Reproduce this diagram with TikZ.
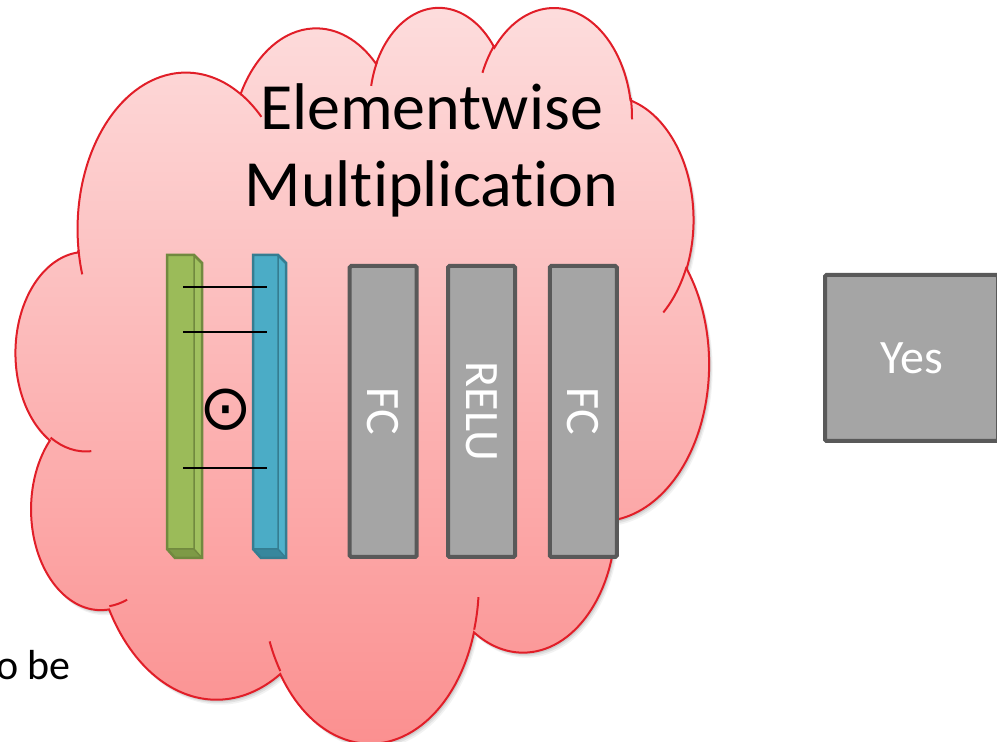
\documentclass[tikz,border=0pt]{standalone}
\usepackage{fontspec}
\setmainfont{Carlito}[Ligatures=NoCommon]
\newfontfamily\symfont{DejaVu Sans}
\definecolor{cloudtop}{RGB}{253,222,222}
\definecolor{cloudbot}{RGB}{251,142,142}
\definecolor{cloudred}{RGB}{225,30,40}
\definecolor{boxfill}{RGB}{165,165,165}
\definecolor{boxdraw}{RGB}{89,89,89}
\definecolor{grfront}{RGB}{155,187,89}
\definecolor{grside}{RGB}{160,192,95}
\definecolor{grbot}{RGB}{125,154,70}
\definecolor{grdraw}{RGB}{113,137,63}
\definecolor{blfront}{RGB}{75,172,198}
\definecolor{blside}{RGB}{80,178,204}
\definecolor{blbot}{RGB}{55,135,157}
\definecolor{bldraw}{RGB}{53,125,145}

\newcommand\cldarc[5]{%
  \pgfmathsetmacro\cldtts{atan2(#2*sin(#4),#3*cos(#4))}%
  \pgfmathsetmacro\cldtte{atan2(#2*sin(#4+#5),#3*cos(#4+#5))}%
  \pgfmathsetmacro\cldtd{\cldtte-(\cldtts)}%
  \pgfmathsetmacro\cldtd{\cldtd+360*and(#5>0,\cldtd<0)-360*and(#5<0,\cldtd>0)}%
  \pgfmathsetmacro\cldtS{-(\cldtts)}%
  \pgfmathsetmacro\cldtD{-(\cldtd)}%
  \pgfmathsetmacro\cldtrx{#2*0.0160417}%
  \pgfmathsetmacro\cldtry{#3*0.0170255}%
  \expandafter\xdef\csname cldp#1\endcsname{ arc[start angle=\cldtS, delta angle=\cldtD, x radius=\cldtrx pt, y radius=\cldtry pt]}%
}
\newcommand\cldinner[3]{% x y arcname
  \edef\cldtmp{\noexpand\draw[cloudline] (#1,#2) \csname cldp#3\endcsname;}\cldtmp}
\newcommand\cldshadow[3]{% dx dy opacity
  \edef\cldtmp{\noexpand\fill[black, opacity=#3, shift={(#1,#2)}]
  (78.56,491.84) \cldpA \cldpB \cldpC \cldpD \cldpE \cldpF \cldpG \cldpH \cldpI \cldpJ \cldpK -- cycle;}\cldtmp}

\tikzset{
  layerbox/.style={draw=boxdraw, fill=boxfill, line width=4pt, inner sep=0pt,
    rounded corners=1.5pt, text=white, font=\fontsize{48}{48}\selectfont},
  cloudline/.style={draw=cloudred, line width=2pt},
  link/.style={line width=2.2pt, draw=black},
}

\begin{document}
\begin{tikzpicture}[x=1pt,y=1pt]
\useasboundingbox (0,0) rectangle (997,742);

% cloud arcs (outer outline)
\cldarc{A}{6753}{9190}{-190.4875}{123.7805}
\cldarc{B}{5333}{7267}{-144.1024}{89.9452}
\cldarc{C}{4365}{5945}{-145.8079}{99.7230}
\cldarc{D}{4857}{6595}{-130.9861}{117.2417}
\cldarc{E}{5333}{7273}{-78.7089}{109.0269}
\cldarc{F}{6775}{9220}{-46.2673}{130.2690}
\cldarc{G}{5785}{7867}{0.6250}{114.0333}
\cldarc{H}{6752}{9215}{22.4516}{115.1726}
\cldarc{I}{7720}{10543}{66.2426}{75.7110}
\cldarc{J}{4360}{5918}{-274.9421}{146.7356}
\cldarc{K}{4345}{5945}{-246.8285}{152.5189}
% inner arcs
\cldarc{ia}{4345}{5945}{86.7420}{26.4295}
\cldarc{ib}{4360}{5918}{73.6105}{11.4475}
\cldarc{ic}{6752}{9215}{137.6242}{14.0811}
\cldarc{id}{6752}{9215}{6.4533}{15.9984}
\cldarc{ie}{5785}{7867}{-70.2924}{70.9174}
\cldarc{if}{5333}{7273}{30.3180}{27.7515}
\cldarc{ig}{4857}{6595}{-13.7443}{14.8507}
\cldarc{ih}{4857}{6595}{-149.1815}{18.1944}
\cldarc{ii}{4365}{5945}{-163.4943}{17.6979}
\cldarc{ij}{6753}{9190}{-66.7070}{12.3194}
\cldarc{ik}{6753}{9190}{157.6544}{11.8582}

% soft shadow
\cldshadow{3.5}{-5}{0.05}
\cldshadow{2.5}{-3.5}{0.07}
\cldshadow{1.5}{-2}{0.09}

\edef\cldtmp{\noexpand\path[cloudline, top color=cloudtop, bottom color=cloudbot]
  (78.56,491.84) \cldpA \cldpB \cldpC \cldpD \cldpE \cldpF \cldpG \cldpH \cldpI \cldpJ \cldpK -- cycle;}
\cldtmp
\cldinner{91.28}{290.82}{ia}
\cldinner{127.14}{142.33}{ib}
\cldinner{280.33}{70.97}{ic}
\cldinner{478.43}{144.85}{id}
\cldinner{563.49}{345.70}{ie}
\cldinner{686.51}{475.09}{if}
\cldinner{630.78}{644.12}{ig}
\cldinner{482.46}{669.22}{ih}
\cldinner{371.18}{656.14}{ii}
\cldinner{240.58}{648.10}{ij}
\cldinner{82.20}{467.68}{ik}

% title
\node[anchor=base, align=center, font=\fontsize{66}{76.7}\selectfont, inner sep=0pt]
  (title) at (431.5,535.3) {Elementwise\\Multiplication};

% green bar
\fill[grfront] (167,487) rectangle (194,193);
\fill[grside] (194,487) -- (202,479) -- (202,184) -- (194,193) -- cycle;
\fill[grbot] (167,193) -- (194,193) -- (202,184) -- (175,184) -- cycle;
\draw[grdraw, line width=1.5pt] (194,487) -- (194,193) -- (167,193) (194,193) -- (202,184);
\draw[grdraw, line width=2.5pt] (167,487) -- (194,487) -- (202,479) -- (202,184) -- (175,184) -- (167,193) -- cycle;

% blue bar
\fill[blfront] (253,487) rectangle (278,193);
\fill[blside] (278,487) -- (286,479) -- (286,184) -- (278,193) -- cycle;
\fill[blbot] (253,193) -- (278,193) -- (286,184) -- (261,184) -- cycle;
\draw[bldraw, line width=1.5pt] (278,487) -- (278,193) -- (253,193) (278,193) -- (286,184);
\draw[bldraw, line width=2.5pt] (253,487) -- (278,487) -- (286,479) -- (286,184) -- (261,184) -- (253,193) -- cycle;

% links
\coordinate (g1) at (183.3,455.3);
\coordinate (b1) at (267.3,455.3);
\coordinate (g2) at (183.3,410.3);
\coordinate (b2) at (267.3,410.3);
\coordinate (g3) at (183.3,274);
\coordinate (b3) at (267.3,274);
\draw[link] (g1) -- (b1);
\draw[link] (g2) -- (b2);
\draw[link] (g3) -- (b3);

\node[font={\fontsize{63}{63}\selectfont\symfont}, inner sep=0pt] (prod) at (226,332.7) {⊙};

% layers
\node[layerbox, rotate=-90, minimum width=291pt, minimum height=67pt] (fc1) at (383.2,330.5) {FC};
\node[layerbox, rotate=-90, minimum width=291pt, minimum height=67pt] (relu) at (481.5,330.5) {RELU};
\node[layerbox, rotate=-90, minimum width=291pt, minimum height=67pt] (fc2) at (583.3,330.5) {FC};

% yes
\node[layerbox, minimum width=173pt, minimum height=166pt] (yes) at (911.5,384) {Yes};

% partial text
\node[anchor=base west, inner sep=0pt, font=\fontsize{42}{42}\selectfont] (tobe) at (-3.9,62.7) {o be};
\end{tikzpicture}
\end{document}
